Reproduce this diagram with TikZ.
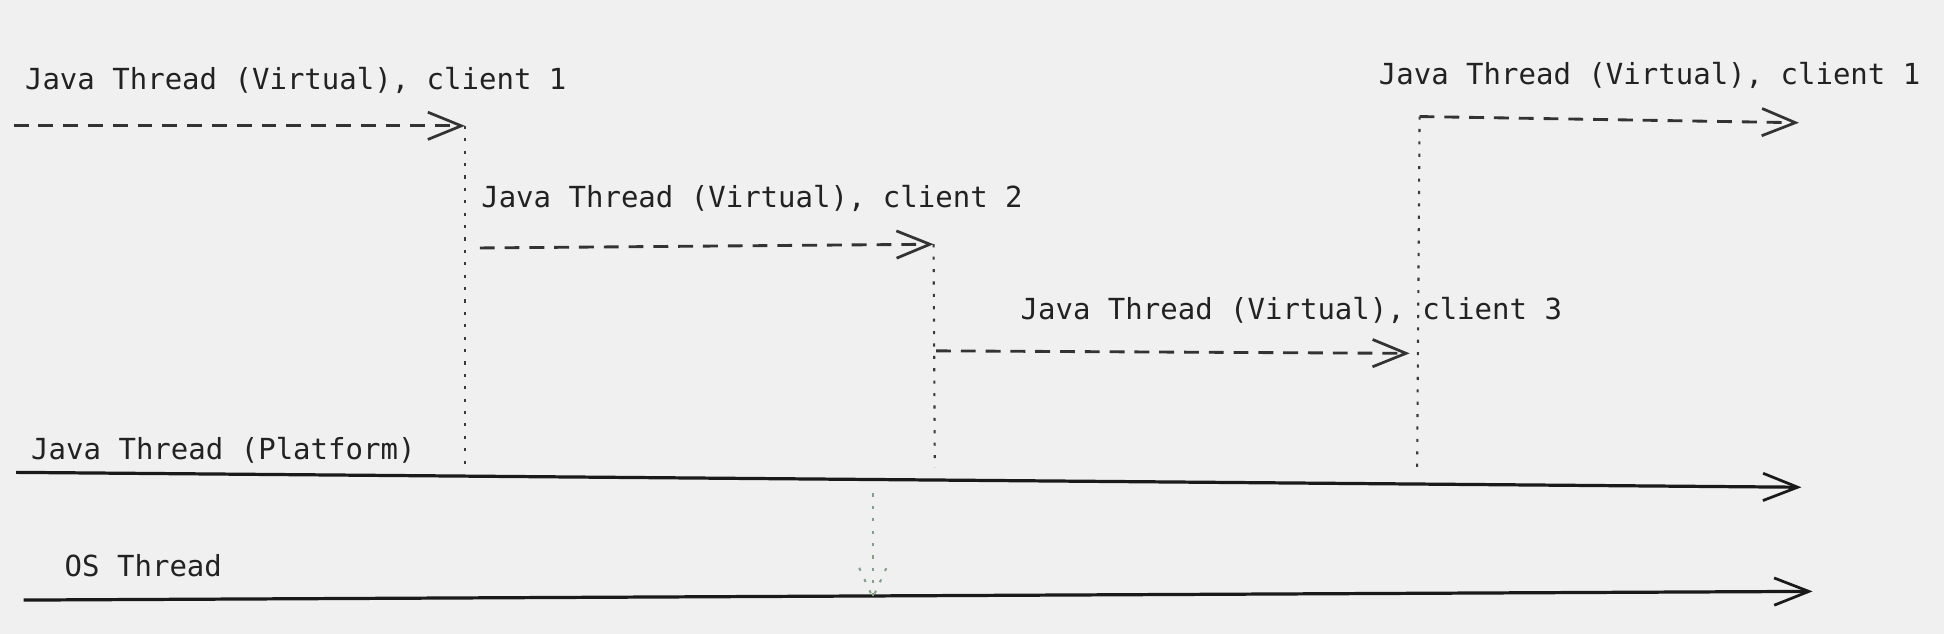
\documentclass[tikz,border=0pt]{standalone}
\usepackage{fontspec}
\newfontfamily\monof{DejaVu Sans Mono}
\usetikzlibrary{arrows.meta}
\definecolor{bgc}{HTML}{F0F0F0}
\definecolor{txtc}{HTML}{222222}
\definecolor{dashc}{HTML}{333333}
\definecolor{linec}{HTML}{1A1A1A}
\definecolor{dotc}{HTML}{3A3A3A}
\definecolor{greenc}{RGB}{130,160,135}
\begin{document}
\begin{tikzpicture}[x=1pt,y=-1pt,
  lbl/.style={anchor=base west, inner sep=0pt, font=\monof\fontsize{23.4}{28}\selectfont, text=txtc},
  vthread/.style={draw=dashc, line width=2.3pt, dash pattern=on 12pt off 8pt,
    -{Straight Barb[length=27pt,width=22pt,line width=2.2pt]}},
  pthread/.style={draw=linec, line width=2.6pt,
    -{Straight Barb[length=28pt,width=22pt,line width=2.2pt]}},
  switchline/.style={draw=dotc, line width=1.7pt, dash pattern=on 2.5pt off 7.5pt},
  mapline/.style={draw=greenc, line width=1.6pt, dash pattern=on 2.5pt off 7.5pt},
]
\fill[bgc] (0,0) rectangle (1568,511);
\useasboundingbox (0,0) rectangle (1568,511);

% labels
\node[lbl] (t1) at (20,72) {Java Thread (Virtual), client 1};
\node[lbl] (t2) at (388,167) {Java Thread (Virtual), client 2};
\node[lbl] (t3) at (823,258) {Java Thread (Virtual), client 3};
\node[lbl] (t4) at (1112,68) {Java Thread (Virtual), client 1};
\node[lbl] (tp) at (25,371) {Java Thread (Platform)};
\node[lbl] (to) at (52,465) {OS Thread};

% coordinates
\coordinate (a1s) at (11,101.5);
\coordinate (a1e) at (375,101.5);
\coordinate (v1b) at (375,375);
\coordinate (a2s) at (387,200);
\coordinate (a2e) at (753,197);
\coordinate (v2b) at (754,377);
\coordinate (a3s) at (755,283);
\coordinate (a3e) at (1137,285);
\coordinate (v3t) at (1145,94);
\coordinate (v3b) at (1143,382);
\coordinate (a4e) at (1451,99);
\coordinate (ps) at (13,381);
\coordinate (pe) at (1453,393);
\coordinate (os) at (19,484);
\coordinate (oe) at (1462,477);
\coordinate (ms) at (704,398);
\coordinate (me) at (704,482);
\coordinate (ml) at (693,458);
\coordinate (mr) at (715,458);

% virtual thread segments
\draw[vthread] (a1s) -- (a1e);
\draw[vthread] (a2s) -- (a2e);
\draw[vthread] (a3s) -- (a3e);
\draw[vthread] (v3t) -- (a4e);

% switches
\draw[switchline] (a1e) -- (v1b);
\draw[switchline] (a2e) -- (v2b);
\draw[switchline] (v3t) -- (v3b);

% carrier threads
\draw[pthread] (ps) -- (pe);
\draw[pthread] (os) -- (oe);

% mapping
\draw[mapline] (ms) -- (me);
\draw[mapline] (ml) -- (me) -- (mr);
\end{tikzpicture}
\end{document}
